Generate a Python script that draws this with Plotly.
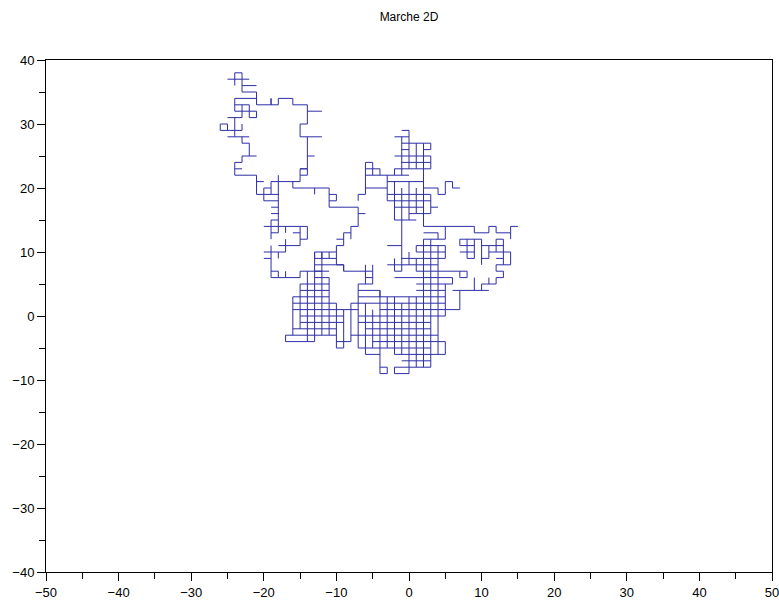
import plotly.graph_objects as go

# 2D lattice random walk, stored as connected runs of unit steps (x, y).
north_west_lobe = [
    [(-25, 37), (-22, 37)],
    [(-24, 38), (-24, 36)],
    [(-24, 38), (-23, 38), (-23, 35), (-21, 35), (-21, 33)],
    [(-23, 36), (-21, 36)],
    [(-24, 34), (-21, 34)],
    [(-21, 33), (-19, 33), (-19, 34), (-19, 33), (-18, 33), (-18, 34), (-16, 34),
     (-16, 33), (-14, 33), (-14, 30), (-15, 30), (-15, 28), (-12, 28)],
    [(-14, 32), (-12, 32)],
    [(-14, 28), (-14, 23), (-15, 23)],
    [(-14, 25), (-13, 25)],
    [(-24, 34), (-24, 32), (-22, 32)],
    [(-24, 33), (-22, 33), (-22, 31), (-21, 31), (-21, 32), (-22, 32)],
    [(-23, 33), (-23, 31)],
    [(-25, 31), (-23, 31)],
    [(-24, 31), (-24, 28)],
    [(-26, 30), (-25, 30), (-25, 29), (-26, 29), (-26, 30)],
    [(-25, 29), (-23, 29), (-23, 30)],
    [(-25, 28), (-22, 28)],
    [(-23, 28), (-23, 27), (-22, 27), (-22, 25)],
    [(-23, 25), (-21, 25)],
    [(-23, 25), (-23, 24), (-24, 24), (-24, 22)],
    [(-24, 23), (-23, 23)],
    [(-24, 22), (-21, 22), (-21, 19), (-18, 19)],
    [(-21, 21), (-20, 21)],
    [(-20, 20), (-19, 20)],
    [(-20, 20), (-20, 18), (-18, 18)],
    [(-19, 21), (-19, 19)],
    [(-19, 21), (-15, 21), (-15, 23), (-14, 23)],
    [(-15, 22), (-14, 22), (-14, 23)],
    [(-18, 22), (-18, 13)],
    [(-16, 21), (-16, 20), (-11, 20)],
    [(-13, 20), (-13, 19)],
]

west_column = [
    [(-19, 17), (-18, 17)],
    [(-19, 16), (-18, 16)],
    [(-19, 15), (-18, 15)],
    [(-19, 15), (-19, 12)],
    [(-20, 14), (-14, 14)],
    [(-17, 14), (-17, 13)],
    [(-19, 13), (-18, 13)],
    [(-15, 14), (-15, 11)],
    [(-16, 13), (-15, 13)],
    [(-14, 14), (-14, 12), (-15, 12)],
    [(-18, 11), (-15, 11)],
    [(-17, 12), (-17, 10)],
    [(-20, 10), (-17, 10)],
    [(-19, 11), (-19, 6), (-15, 6)],
    [(-19, 7), (-18, 7), (-18, 6)],
    [(-18, 10), (-18, 9)],
    [(-20, 9), (-19, 9)],
    [(-17, 7), (-17, 6)],
    [(-15, 7), (-15, 6)],
    [(-15, 7), (-12, 7)],
]

central_block = [
    [(-11, 20), (-11, 17), (-7, 17)],
    [(-11, 18), (-10, 18), (-10, 19), (-11, 19)],
    [(-7, 18), (-7, 19), (-6, 19), (-6, 20), (-3, 20)],
    [(-7, 17), (-7, 14), (-8, 14), (-8, 12)],
    [(-7, 16), (-6, 16)],
    [(-9, 13), (-8, 13)],
    [(-9, 13), (-9, 11)],
    [(-10, 12), (-9, 12)],
    [(-10, 11), (-9, 11)],
    [(-10, 11), (-10, 8)],
    [(-13, 10), (-10, 10)],
    [(-13, 9), (-10, 9)],
    [(-13, 10), (-13, 9)],
    [(-12, 10), (-12, 9)],
    [(-11, 10), (-11, 9)],
    [(-10, 8), (-9, 8), (-9, 7)],
    [(0, 29), (0, 23)],
    [(-1, 29), (0, 29)],
    [(-2, 28), (0, 28)],
    [(-1, 28), (-1, 22)],
    [(-1, 27), (2, 27)],
    [(-1, 26), (0, 26)],
    [(1, 27), (1, 23)],
    [(-2, 25), (2, 25)],
    [(-1, 24), (2, 24)],
    [(-1, 23), (2, 23)],
    [(2, 27), (2, 14)],
    [(2, 27), (3, 27), (3, 26), (2, 26)],
    [(2, 25), (3, 25), (3, 23), (2, 23)],
    [(2, 24), (3, 24)],
    [(-6, 24), (-5, 24), (-5, 22)],
    [(-6, 24), (-6, 20)],
    [(-6, 23), (-4, 23), (-4, 22)],
    [(-6, 22), (0, 22)],
    [(-2, 23), (-2, 22)],
    [(-2, 23), (-1, 23)],
    [(-3, 22), (-3, 18)],
    [(-3, 21), (2, 21)],
    [(-2, 21), (-2, 15), (1, 15)],
    [(-3, 19), (2, 19)],
    [(-3, 18), (2, 18)],
    [(-1, 20), (-1, 7)],
    [(0, 21), (0, 15)],
    [(1, 20), (1, 16)],
    [(-2, 17), (2, 17)],
    [(0, 16), (2, 16)],
    [(2, 20), (4, 20), (4, 19), (5, 19), (5, 21), (6, 21), (6, 20), (7, 20)],
    [(2, 19), (3, 19), (3, 16), (2, 16)],
    [(2, 18), (3, 18)],
    [(3, 17), (4, 17)],
    [(-3, 11), (-1, 11)],
    [(-2, 9), (-2, 7)],
    [(1, 11), (2, 11)],
    [(1, 11), (1, 10), (2, 10)],
]

east_arm = [
    [(2, 14), (9, 14), (9, 13), (11, 13), (11, 14), (12, 14), (12, 13), (14, 13),
     (14, 14), (15, 14)],
    [(14, 13), (14, 12)],
    [(5, 14), (5, 12), (2, 12)],
    [(2, 13), (4, 13), (4, 12)],
    [(7, 12), (7, 11), (9, 11)],
    [(7, 12), (10, 12)],
    [(8, 12), (8, 9), (9, 9), (9, 12)],
    [(7, 10), (9, 10)],
    [(10, 12), (10, 8)],
    [(10, 11), (13, 11)],
    [(11, 10), (14, 10), (14, 8), (12, 8)],
    [(11, 11), (11, 9), (10, 9)],
    [(12, 12), (12, 10)],
    [(12, 12), (13, 12), (13, 8)],
    [(12, 9), (13, 9)],
    [(12, 8), (12, 7), (13, 7), (13, 6), (12, 6), (12, 5), (10, 5), (10, 4)],
    [(11, 6), (11, 5)],
    [(9, 6), (9, 4)],
    [(6, 4), (11, 4)],
    [(7, 4), (7, 1), (5, 1)],
    [(6, 6), (6, 5)],
    [(7, 7), (7, 6), (8, 6), (8, 7)],
]

south_mesh_rows = [
    [(-13, 8), (-9, 8)],
    [(-3, 8), (2, 8)],
    [(-13, 7), (-11, 7)],
    [(-9, 7), (-5, 7)],
    [(-2, 7), (-1, 7)],
    [(1, 7), (8, 7)],
    [(-13, 6), (-11, 6)],
    [(-6, 6), (-5, 6)],
    [(-2, 6), (6, 6)],
    [(-13, 5), (-11, 5)],
    [(-15, 5), (-13, 5)],
    [(-7, 5), (-5, 5)],
    [(1, 5), (6, 5)],
    [(-15, 4), (-11, 4)],
    [(-7, 4), (-4, 4), (-4, 3)],
    [(1, 4), (5, 4)],
    [(-16, 3), (-11, 3)],
    [(-7, 3), (2, 3)],
    [(2, 3), (5, 3)],
    [(-16, 2), (-10, 2)],
    [(-8, 2), (5, 2)],
    [(-16, 1), (-7, 1)],
    [(-4, 1), (5, 1)],
    [(-15, 0), (-9, 0)],
    [(-7, 0), (5, 0)],
    [(-15, -1), (-9, -1)],
    [(-7, -1), (3, -1)],
    [(-16, -2), (-10, -2)],
    [(-6, -2), (3, -2)],
    [(-17, -3), (-10, -3)],
    [(-8, -3), (4, -3)],
    [(-17, -4), (-13, -4)],
    [(-10, -4), (-8, -4)],
    [(-5, -4), (5, -4)],
    [(-10, -5), (-9, -5)],
    [(-7, -5), (3, -5)],
    [(-6, -6), (-4, -6)],
    [(-2, -6), (5, -6)],
    [(-1, -7), (3, -7)],
    [(-4, -8), (-3, -8)],
    [(-2, -8), (3, -8)],
    [(-4, -9), (-3, -9)],
    [(-2, -9), (0, -9)],
]

south_mesh_columns = [
    [(-16, 3), (-16, -3)],
    [(-17, -3), (-17, -4)],
    [(-15, 5), (-15, -2)],
    [(-14, 7), (-14, -4)],
    [(-13, 10), (-13, -4)],
    [(-12, 10), (-12, -3)],
    [(-11, 6), (-11, -3)],
    [(-10, 2), (-10, -5)],
    [(-9, 8), (-9, 7)],
    [(-9, 1), (-9, -5)],
    [(-8, 2), (-8, -4)],
    [(-7, 5), (-7, -5)],
    [(-6, 8), (-6, 5)],
    [(-6, 2), (-6, -6)],
    [(-5, 8), (-5, 5)],
    [(-5, 1), (-5, -5)],
    [(-4, 4), (-4, -9)],
    [(-3, 3), (-3, -5)],
    [(-3, -8), (-3, -9)],
    [(-2, 3), (-2, -6)],
    [(-2, -8), (-2, -9)],
    [(-1, 2), (-1, -6)],
    [(0, 10), (0, 8)],
    [(0, 3), (0, -9)],
    [(1, 9), (1, 7)],
    [(1, 3), (1, -8)],
    [(2, 12), (2, -8)],
    [(3, 12), (3, -8)],
    [(4, 11), (4, -6)],
    [(5, 11), (5, 9)],
    [(5, 5), (5, 0)],
    [(5, -4), (5, -6)],
    [(-1, 9), (2, 9)],
    [(2, 11), (5, 11)],
    [(2, 10), (5, 10)],
    [(2, 9), (5, 9)],
    [(2, 8), (4, 8)],
]

walk_runs = (north_west_lobe + west_column + central_block + east_arm
             + south_mesh_rows + south_mesh_columns)

xs, ys = [], []
for run in walk_runs:
    for px, py in run:
        xs.append(px)
        ys.append(py)
    xs.append(None)
    ys.append(None)

x_ticks = [-50, -40, -30, -20, -10, 0, 10, 20, 30, 40, 50]
y_ticks = [-40, -30, -20, -10, 0, 10, 20, 30, 40]

fig = go.Figure()
fig.add_trace(go.Scatter(
    x=xs, y=ys, mode="lines",
    line=dict(color="#2e2ea6", width=1),
    connectgaps=False, hoverinfo="skip", showlegend=False,
))

axis_common = dict(
    showgrid=False, zeroline=False, automargin=False,
    showline=True, linecolor="#000000", linewidth=1, mirror=True,
    ticks="outside", ticklen=8, tickwidth=1, tickcolor="#000000",
    ticklabeloverflow="allow",
    tickfont=dict(family="Liberation Sans, Arial, sans-serif", size=13, color="#000000"),
    minor=dict(ticks="outside", ticklen=6, tickwidth=1, tickcolor="#000000", dtick=5),
)

fig.update_xaxes(range=[-50, 50], tickvals=x_ticks, **axis_common)
fig.update_yaxes(range=[-40, 40], tickvals=y_ticks, **axis_common)

fig.update_layout(
    width=779, height=605,
    margin=dict(l=46, r=7, t=60, b=33, autoexpand=False),
    paper_bgcolor="#ffffff", plot_bgcolor="#ffffff",
    title=dict(text="Marche 2D", x=0.525, xanchor="center", y=0.972, yanchor="middle",
               font=dict(family="Liberation Sans, Arial, sans-serif", size=12, color="#000000")),
)

fig.write_html("out.html", config={"displayModeBar": False})
